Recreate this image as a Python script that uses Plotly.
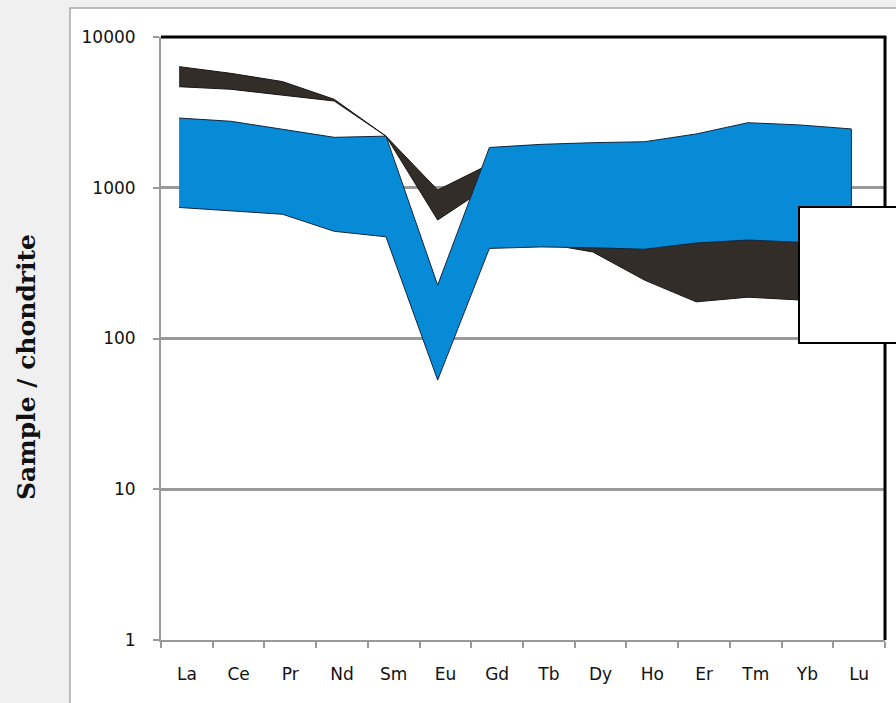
import plotly.graph_objects as go
import numpy as np

# ---------------- data ----------------
elements = ["La", "Ce", "Pr", "Nd", "Sm", "Eu", "Gd", "Tb", "Dy", "Ho", "Er", "Tm", "Yb", "Lu"]

# blue field (upper / lower envelope, chondrite-normalised)
blue_upper = [2900, 2760, 2443, 2160, 2200, 226, 1850, 1940, 1990, 2020, 2275, 2700, 2610, 2455]
blue_lower = [740, 705, 667, 514, 473, 53, 396, 405, 400, 391, 430, 450, 435, 420]

# dark field (upper / lower envelope)
dark_upper = [6360, 5740, 5060, 3860, 2200, 966, 1430, 1000, 800, 700, 700, 700, 700, 700]
dark_lower = [4680, 4500, 4120, 3760, 2200, 611, 1030, 430, 375, 244, 175, 188, 180, 175]

y_tickvals = [1, 10, 100, 1000, 10000]
y_ticktext = ["1", "10", "100", "1000", "10000"]
y_title = "Sample / chondrite"

# ---------------- figure ----------------
xpos = np.arange(len(elements))          # data positions
label_pos = xpos + 0.15                  # category label centres


def band(upper, lower):
    xs = list(xpos) + list(xpos[::-1])
    ys = list(upper) + list(lower[::-1])
    return xs, ys


fig = go.Figure()

dx, dy = band(dark_upper, dark_lower)
fig.add_trace(go.Scatter(x=dx, y=dy, fill="toself", mode="lines",
                         fillcolor="#332d2a", line=dict(color="#1a1614", width=1),
                         hoverinfo="skip", showlegend=False))

bx, by = band(blue_upper, blue_lower)
fig.add_trace(go.Scatter(x=bx, y=by, fill="toself", mode="lines",
                         fillcolor="#088bd7", line=dict(color="#10253d", width=1),
                         hoverinfo="skip", showlegend=False))

W, H = 896, 703
L, R, T, B = 161, 11, 37, 63
pw, ph = W - L - R, H - T - B


def px(x):
    return (x - L) / pw


def py(y):
    return (H - B - y) / ph


shapes = [
    # white panel behind chart
    dict(type="rect", xref="paper", yref="paper", x0=px(70), x1=px(960), y0=py(8), y1=py(760),
         fillcolor="white", line=dict(color="#a8a8a8", width=1.5), layer="below"),
    # black top & right frame
    dict(type="line", xref="paper", yref="paper", x0=0, x1=1.002, y0=1, y1=1,
         line=dict(color="black", width=3), layer="above"),
    dict(type="line", xref="paper", yref="paper", x0=1, x1=1, y0=0, y1=1,
         line=dict(color="black", width=3), layer="above"),
    # empty legend box
    dict(type="rect", xref="paper", yref="paper", x0=px(799), x1=px(960), y0=py(343), y1=py(207),
         fillcolor="white", line=dict(color="black", width=2), layer="above"),
]

fig.update_layout(
    width=W, height=H,
    margin=dict(l=L, r=R, t=T, b=B, pad=0),
    paper_bgcolor="#f0f0f0",
    plot_bgcolor="white",
    shapes=shapes,
    showlegend=False,
    annotations=[dict(text="<b>" + y_title + "</b>", xref="paper", yref="paper",
                      x=px(27), y=py(367), textangle=-90, showarrow=False,
                      font=dict(family="DejaVu Serif", size=25, color="#111111"),
                      xanchor="center", yanchor="middle")],
    xaxis=dict(
        range=[-0.35, 13.65], showgrid=False, zeroline=False,
        showline=True, linecolor="#999999", linewidth=2,
        tickvals=list(label_pos), ticktext=elements, ticks="",
        ticklabelstandoff=18,
        tickfont=dict(family="DejaVu Sans", size=17, color="#111111"),
        minor=dict(tick0=-0.35, dtick=1, ticks="outside", ticklen=6,
                   tickcolor="#999999", tickwidth=2, showgrid=False),
    ),
    yaxis=dict(
        type="log", range=[0, 4], showgrid=True, gridcolor="#999999", gridwidth=2.5,
        zeroline=False, showline=True, linecolor="#999999", linewidth=2,
        tickvals=y_tickvals, ticktext=y_ticktext, ticks="outside", ticklen=6,
        tickcolor="#999999", tickwidth=2, ticklabelstandoff=14,
        tickfont=dict(family="DejaVu Sans", size=17, color="#111111"),
    ),
)

fig.write_html("out.html",
               config={"displayModeBar": False},
               post_script="document.body.style.margin='0';"
                           "document.body.style.background='#f0f0f0';")
